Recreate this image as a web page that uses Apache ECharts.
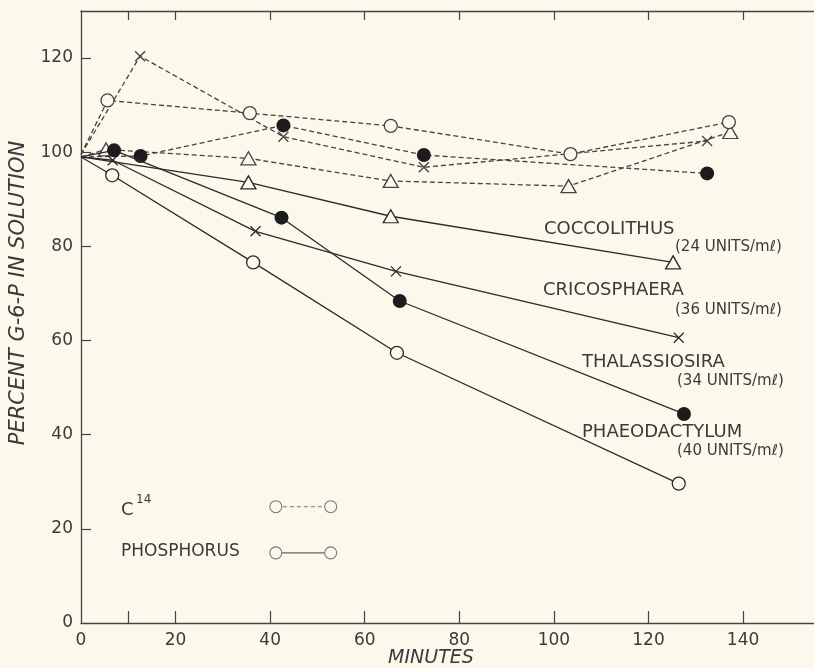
<!DOCTYPE html>
<html>
<head>
<meta charset="utf-8">
<script src="https://cdn.jsdelivr.net/npm/echarts@6/dist/echarts.min.js"></script>
<style>
html,body{margin:0;padding:0;background:#fcf8ec;}
#chart{width:814px;height:668px;}
</style>
</head>
<body>
<div id="chart"></div>
<script>
// ---- data (minutes, percent G-6-P in solution) ----
const coccoC14X = [0, 5.3, 35.4, 65.5, 103.1, 137.3];
const coccoC14Y = [99, 100.6, 98.7, 93.9, 92.8, 104.3];
const coccoPX   = [0, 35.4, 65.5, 125.2];
const coccoPY   = [99, 93.6, 86.4, 76.6];

const cricoC14X = [0, 12.5, 42.8, 72.5, 132.4];
const cricoC14Y = [99.5, 120.4, 103.3, 96.8, 102.4];
const cricoPX   = [0, 6.7, 36.9, 66.6, 126.4];
const cricoPY   = [99, 98.3, 83.2, 74.7, 60.6];

const thalC14X  = [0, 12.6, 42.8, 72.5, 132.4];
const thalC14Y  = [99, 99.2, 105.7, 99.4, 95.5];
const thalPX    = [0, 7.0, 42.4, 67.4, 127.5];
const thalPY    = [99, 100.4, 86.1, 68.4, 44.4];

const phaeoC14X = [0, 5.6, 35.7, 65.5, 103.5, 137.0];
const phaeoC14Y = [99.5, 111, 108.3, 105.6, 99.6, 106.4];
const phaeoPX   = [0, 6.6, 36.4, 66.8, 126.4];
const phaeoPY   = [99, 95.1, 76.6, 57.4, 29.6];

// legend key samples
const keyX    = [41.2, 52.8];
const keyC14Y = [24.7, 24.7];
const keyPY   = [14.9, 14.9];

const xTickVals  = [10, 20, 40, 60, 80, 100, 120, 140];
const xLabelVals = [0, 20, 40, 60, 80, 100, 120, 140];
const yTickVals  = [20, 40, 60, 80, 100, 120];
const yLabelVals = [0, 20, 40, 60, 80, 100, 120];

const speciesLabels = [
  ['COCCOLITHUS', '(24 UNITS/mℓ)'],
  ['CRICOSPHAERA', '(36 UNITS/mℓ)'],
  ['THALASSIOSIRA', '(34 UNITS/mℓ)'],
  ['PHAEODACTYLUM', '(40 UNITS/mℓ)']
];

// ---- styling ----
const BG = '#fcf8ec';
const SOLID = '#2b2b2b';
const DASH = '#444';
const AX = '#444';
const FONT = 'DejaVu Sans';

function pts(xs, ys, hideFirst) {
  return xs.map((x, i) => (i === 0 && hideFirst) ? {value: [x, ys[i]], symbol: 'none'} : [x, ys[i]]);
}

const SYM = {
  open:   {symbol: 'circle', symbolSize: 13, fill: BG},
  filled: {symbol: 'circle', symbolSize: 14, fill: '#1c1c1c'},
  tri:    {symbol: 'triangle', symbolSize: [15, 13], fill: BG},
  cross:  {symbol: 'path://M0 0L10 10M10 0L0 10', symbolSize: 10, fill: 'rgba(0,0,0,0)'}
};

function series(xs, ys, kind, dashed) {
  const col = dashed ? DASH : SOLID;
  const s = SYM[kind];
  return {
    type: 'line',
    data: pts(xs, ys, true),
    symbol: s.symbol,
    symbolSize: s.symbolSize,
    showAllSymbol: true,
    z: dashed ? 2 : 3,
    lineStyle: {color: col, width: dashed ? 1.3 : 1.3, type: dashed ? [5, 3] : 'solid'},
    itemStyle: {color: s.fill, borderColor: col, borderWidth: kind === 'filled' ? 0 : 1.3},
    emphasis: {disabled: true},
    silent: true
  };
}

const seriesList = [
  series(coccoC14X, coccoC14Y, 'tri', true),
  series(cricoC14X, cricoC14Y, 'cross', true),
  series(thalC14X, thalC14Y, 'filled', true),
  series(phaeoC14X, phaeoC14Y, 'open', true),
  series(coccoPX, coccoPY, 'tri', false),
  series(cricoPX, cricoPY, 'cross', false),
  series(thalPX, thalPY, 'filled', false),
  series(phaeoPX, phaeoPY, 'open', false),
  {
    type: 'line', data: pts(keyX, keyC14Y, false), symbol: 'circle', symbolSize: 12,
    lineStyle: {color: '#777', width: 1.1, type: [4, 3]},
    itemStyle: {color: BG, borderColor: '#777', borderWidth: 1.1},
    emphasis: {disabled: true}, silent: true
  },
  {
    type: 'line', data: pts(keyX, keyPY, false), symbol: 'circle', symbolSize: 12,
    lineStyle: {color: '#666', width: 1.2},
    itemStyle: {color: BG, borderColor: '#777', borderWidth: 1.1},
    emphasis: {disabled: true}, silent: true
  }
];

const labelPos = [[544, 230, 675, 249], [543, 291, 675, 312], [582, 363, 677, 383], [582, 433, 677, 453]];
const graphics = [];
speciesLabels.forEach((lab, i) => {
  const p = labelPos[i];
  graphics.push({type: 'text', left: p[0], top: p[1] - 10, style: {text: lab[0], font: '18px "' + FONT + '"', fill: '#3a3a3a'}});
  graphics.push({type: 'text', left: p[2], top: p[3] - 9, style: {text: lab[1], font: '15px "' + FONT + '"', fill: '#3a3a3a'}});
});
graphics.push({type: 'text', left: 121, top: 501, style: {text: 'C', font: '18px "' + FONT + '"', fill: '#3a3a3a'}});
graphics.push({type: 'text', left: 136, top: 494, style: {text: '14', font: '12px "' + FONT + '"', fill: '#3a3a3a'}});
graphics.push({type: 'text', left: 121, top: 543, style: {text: 'PHOSPHORUS', font: '17px "' + FONT + '"', fill: '#3a3a3a'}});
graphics.push({type: 'text', x: 19, y: 293, rotation: Math.PI / 2,
  style: {text: 'PERCENT G-6-P IN SOLUTION', font: 'italic 21px "' + FONT + '"', fill: '#3a3a3a', align: 'center', verticalAlign: 'middle'}});
graphics.push({type: 'text', x: 431, y: 658,
  style: {text: 'MINUTES', font: 'italic 19px "' + FONT + '"', fill: '#3a3a3a', align: 'center', verticalAlign: 'middle'}});

const chart = echarts.init(document.getElementById('chart'), null, {renderer: 'canvas'});
chart.setOption({
  backgroundColor: BG,
  animation: false,
  grid: {left: 81, right: 0, top: 11, bottom: 45, containLabel: false},
  xAxis: [
    {
      type: 'value', min: 0, max: 155, interval: 20, position: 'bottom',
      axisLine: {show: true, onZero: false, lineStyle: {color: AX, width: 1.3}},
      axisTick: {show: true, inside: true, length: 12, customValues: xTickVals, lineStyle: {color: AX, width: 1.2}},
      axisLabel: {customValues: xLabelVals, margin: 9, fontSize: 17, color: '#3a3a3a', fontFamily: FONT},
      splitLine: {show: false}
    },
    {
      type: 'value', min: 0, max: 155, interval: 20, position: 'top',
      axisLine: {show: true, onZero: false, lineStyle: {color: AX, width: 1.3}},
      axisTick: {show: true, inside: true, length: 9, customValues: xTickVals, lineStyle: {color: AX, width: 1.2}},
      axisLabel: {show: false},
      splitLine: {show: false}
    }
  ],
  yAxis: [{
    type: 'value', min: 0, max: 130, interval: 20,
    axisLine: {show: true, onZero: false, lineStyle: {color: AX, width: 1.3}},
    axisTick: {show: true, inside: true, length: 10, customValues: yTickVals, lineStyle: {color: AX, width: 1.2}},
    axisLabel: {customValues: yLabelVals, margin: 8, fontSize: 17, color: '#3a3a3a', fontFamily: FONT},
    splitLine: {show: false}
  }],
  series: seriesList,
  graphic: graphics
});
</script>
</body>
</html>
